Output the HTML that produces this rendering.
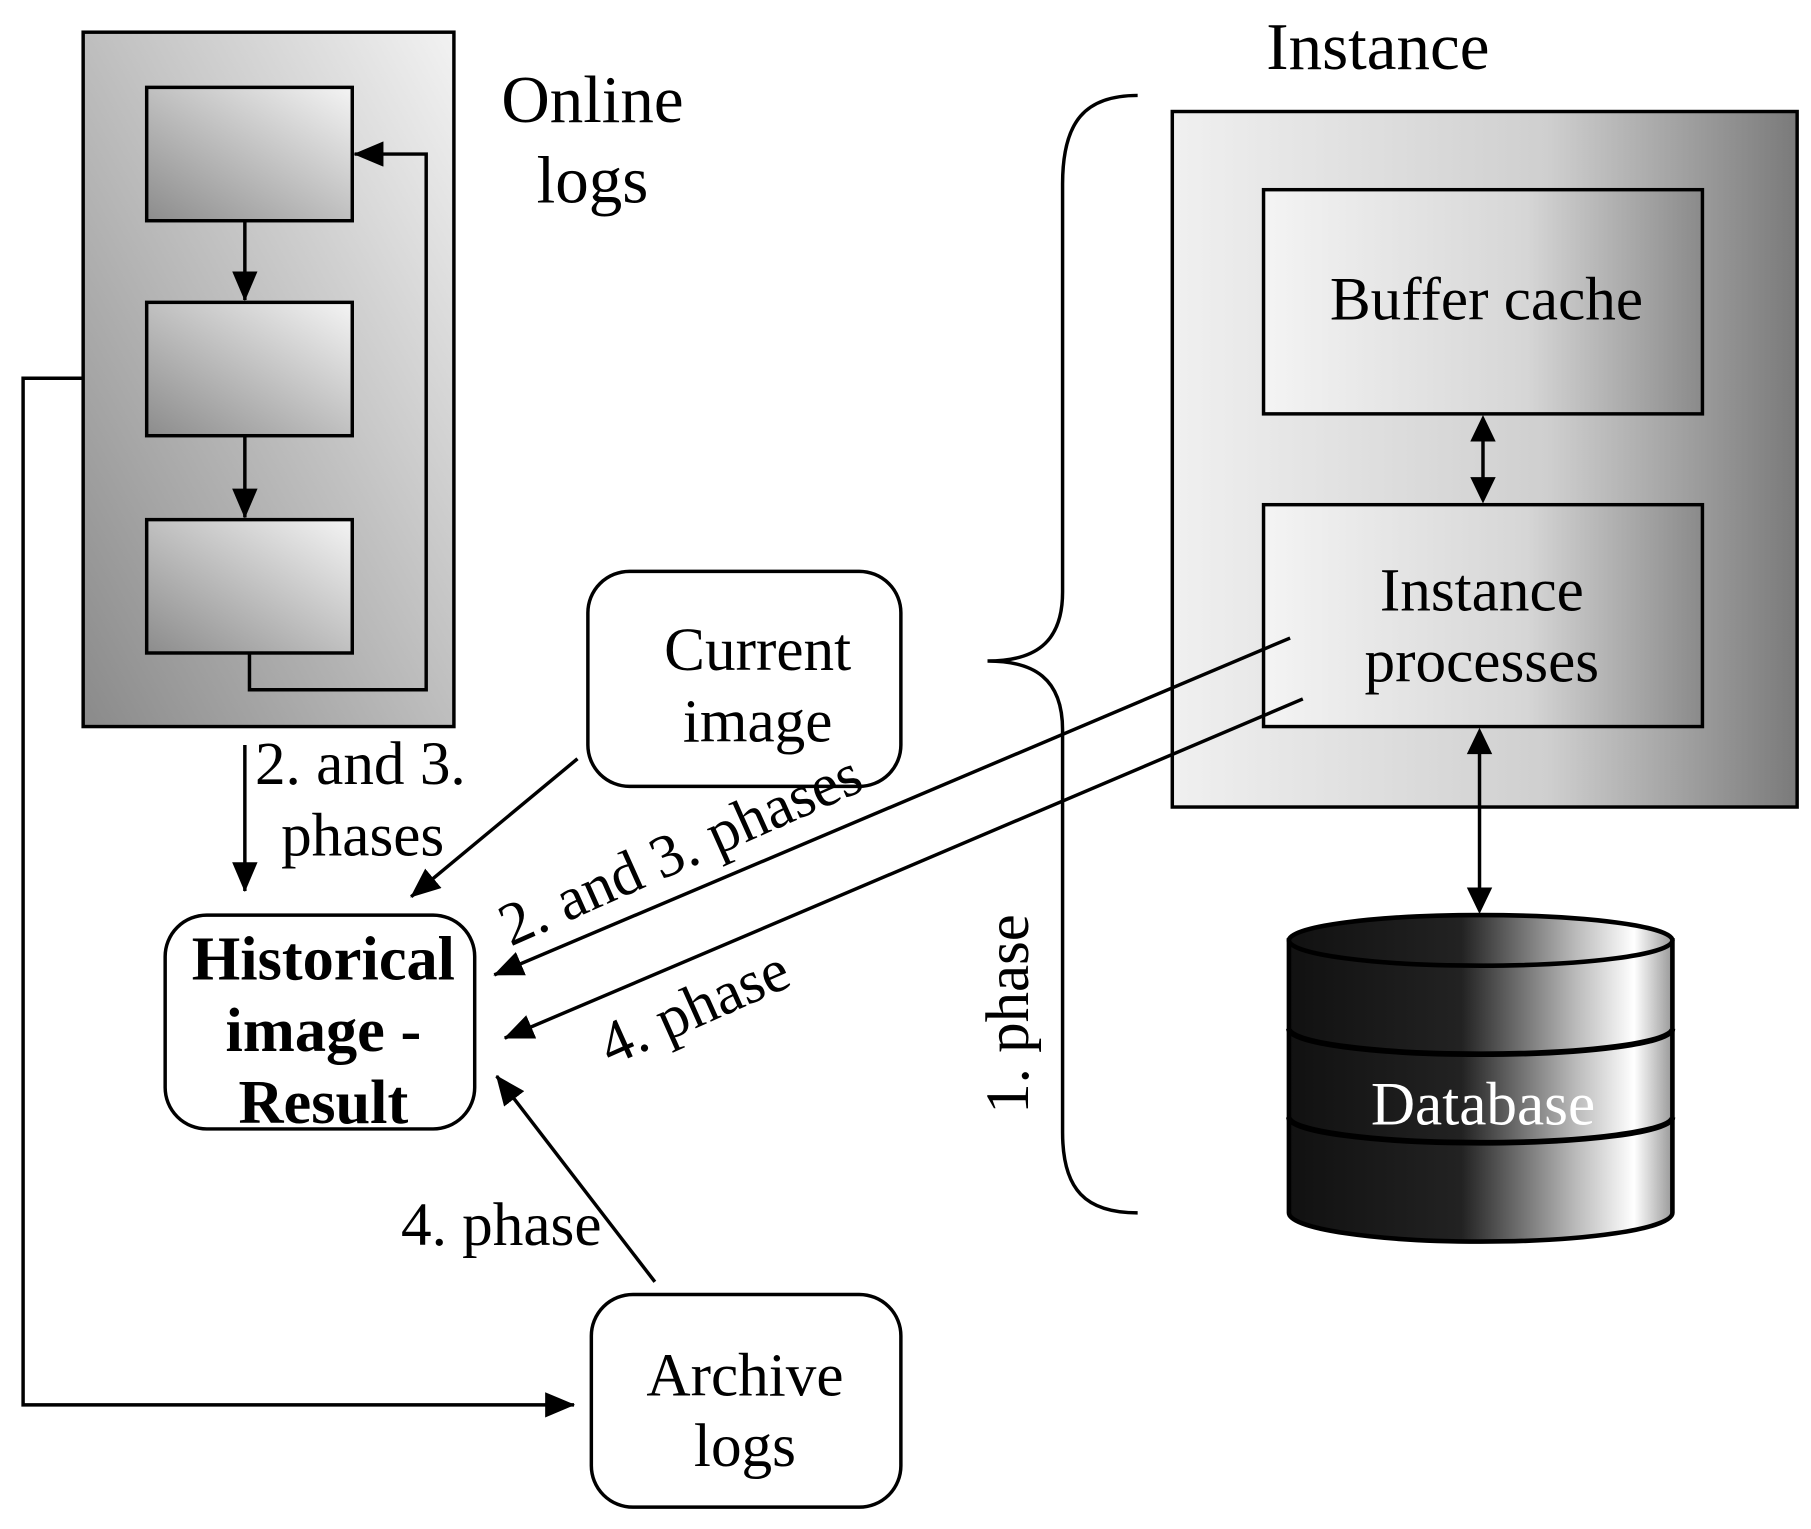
<!DOCTYPE html>
<html><head><meta charset="utf-8"><style>
html,body{margin:0;padding:0;background:#fff;}
svg{display:block;}
text{font-family:"Liberation Serif",serif;}
</style></head><body>
<svg width="1811" height="1529" viewBox="0 0 1568 1330" preserveAspectRatio="none" xmlns="http://www.w3.org/2000/svg">
<defs>
<linearGradient id="gLog" x1="0" y1="1" x2="1" y2="0">
<stop offset="0" stop-color="#8a8a8a"/><stop offset="1" stop-color="#f2f2f2"/></linearGradient>
<linearGradient id="gBox" x1="0" y1="1" x2="1" y2="0">
<stop offset="0" stop-color="#8c8c8c"/><stop offset="1" stop-color="#f4f4f4"/></linearGradient>
<linearGradient id="gInst" x1="0" y1="0" x2="1" y2="0">
<stop offset="0" stop-color="#f0f0f0"/><stop offset="0.6" stop-color="#cfcfcf"/><stop offset="1" stop-color="#7a7a7a"/></linearGradient>
<linearGradient id="gIn" x1="0" y1="0" x2="1" y2="0">
<stop offset="0" stop-color="#f4f4f4"/><stop offset="0.6" stop-color="#d6d6d6"/><stop offset="1" stop-color="#8a8a8a"/></linearGradient>
<linearGradient id="gDb" x1="0" y1="0" x2="1" y2="0">
<stop offset="0" stop-color="#111"/><stop offset="0.45" stop-color="#222"/><stop offset="0.75" stop-color="#bbb"/><stop offset="0.9" stop-color="#fff"/><stop offset="1" stop-color="#999"/></linearGradient>
<marker id="ahb" markerWidth="26" markerHeight="22" refX="25" refY="11" orient="auto" markerUnits="userSpaceOnUse" viewBox="0 0 26 22">
<path d="M0,0 L26,11 L0,22 z" fill="#000"/></marker>
</defs>
<g stroke="#000" stroke-width="3">
<rect x="72" y="28" width="321" height="604" fill="url(#gLog)"/>
<rect x="127" y="76" width="178" height="116" fill="url(#gBox)"/>
<rect x="127" y="263" width="178" height="116" fill="url(#gBox)"/>
<rect x="127" y="452" width="178" height="116" fill="url(#gBox)"/>
<line x1="212" y1="192" x2="212" y2="261" marker-end="url(#ahb)"/>
<line x1="212" y1="379" x2="212" y2="450" marker-end="url(#ahb)"/>
<polyline points="216,568 216,600 369,600 369,134 307,134" fill="none" marker-end="url(#ahb)"/>
<polyline points="72,329 20,329 20,1222 497,1222" fill="none" marker-end="url(#ahb)"/>
<line x1="212" y1="648" x2="212" y2="775" marker-end="url(#ahb)"/>
<rect x="509" y="497" width="271" height="187" rx="36" fill="#fff"/>
<rect x="143" y="796" width="268" height="186" rx="36" fill="#fff"/>
<rect x="512" y="1126" width="268" height="185" rx="36" fill="#fff"/>
<line x1="500" y1="660" x2="356" y2="780" marker-end="url(#ahb)"/>
<line x1="567" y1="1115" x2="430" y2="936" marker-end="url(#ahb)"/>
<path d="M985,83 C940,83 920,105 920,160 L920,515 C920,560 895,575 855,575 C895,575 920,590 920,635 L920,985 C920,1035 940,1055 985,1055" fill="none"/>
<rect x="1015" y="97" width="541" height="605" fill="url(#gInst)"/>
<rect x="1094" y="165" width="380" height="195" fill="url(#gIn)"/>
<rect x="1094" y="439" width="380" height="193" fill="url(#gIn)"/>
<line x1="1284" y1="380" x2="1284" y2="420"/>
<path d="M1273,384 L1284,361 L1295,384 Z M1273,415 L1284,438 L1295,415 Z" fill="#000" stroke="none"/>
<line x1="1281" y1="655" x2="1281" y2="775"/>
<path d="M1270,656 L1281,633 L1292,656 Z M1270,772 L1281,795 L1292,772 Z" fill="#000" stroke="none"/>
<line x1="1117" y1="555" x2="428" y2="848" marker-end="url(#ahb)"/>
<line x1="1128" y1="608" x2="437" y2="903" marker-end="url(#ahb)"/>
<path d="M1116,818 L1116,1055 A166,25 0 0 0 1448,1055 L1448,818 Z" fill="url(#gDb)" stroke-width="4"/>
<ellipse cx="1282" cy="818" rx="166" ry="22" fill="url(#gDb)" stroke-width="4"/>
<path d="M1116,895 A166,22 0 0 0 1448,895" fill="none" stroke-width="5" stroke="#000"/>
<path d="M1116,972 A166,22 0 0 0 1448,972" fill="none" stroke-width="5" stroke="#000"/>
</g>
<g font-size="58" text-anchor="middle" fill="#000">
<text x="513" y="106">Online</text>
<text x="513" y="176">logs</text>
<text x="1193" y="60">Instance</text>
</g>
<g font-size="53" fill="#000" text-anchor="middle">
<text x="312" y="682">2. and 3.</text>
<text x="314" y="744">phases</text>
<text x="656" y="583">Current</text>
<text x="656" y="645">image</text>
<text x="645" y="1214">Archive</text>
<text x="645" y="1275">logs</text>
<text x="434" y="1083">4. phase</text>
<text x="1287" y="278">Buffer cache</text>
<text x="1283" y="531">Instance</text>
<text x="1283" y="593">processes</text>
<text transform="translate(596,755) rotate(-24)">2. and 3. phases</text>
<text transform="translate(608,892) rotate(-24)">4. phase</text>
<text transform="translate(890,882) rotate(-90)">1. phase</text>
<text x="1284" y="978" fill="#fff">Database</text>
</g>
<g font-size="54" font-weight="bold" text-anchor="middle" fill="#000">
<text x="280" y="852">Historical</text>
<text x="280" y="914">image -</text>
<text x="280" y="977">Result</text>
</g>
</svg>
</body></html>
